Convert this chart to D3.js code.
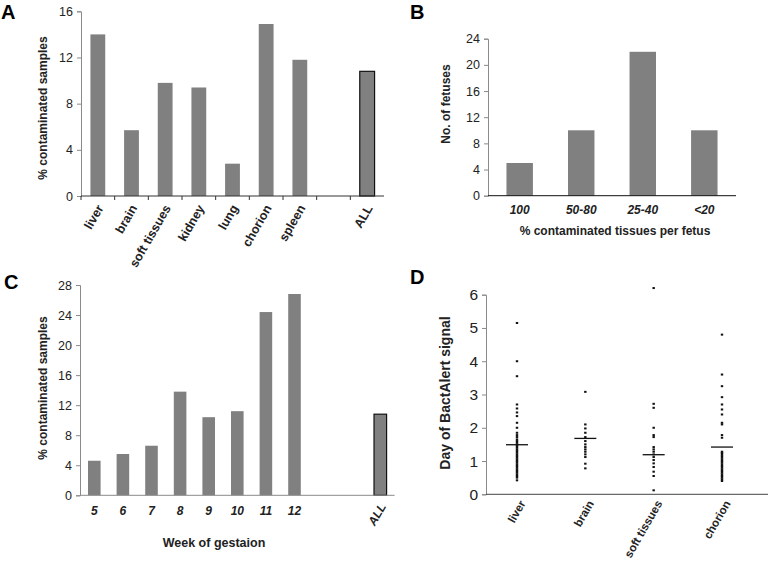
<!DOCTYPE html>
<html>
<head>
<meta charset="utf-8">
<script src="https://d3js.org/d3.v7.min.js"></script>
<style>
  body { margin: 0; background: #fff; }
  text { font-family: "Liberation Sans", Arial, sans-serif; }
  .tick text { font-size: 12px; fill: #222; }
  .ttl { font-size: 12px; font-weight: bold; fill: #222; }
  .lbl { font-size: 12px; font-weight: bold; fill: #222; }
  .panel { font-size: 20px; font-weight: bold; fill: #000; }
</style>
</head>
<body>
<svg id="fig" width="768" height="564"></svg>
<script>
// panel A: % contaminated samples per tissue
var tissuesA = ["liver", "brain", "soft tissues", "kidney", "lung", "chorion", "spleen", "", "ALL"];
var valuesA  = [14.0, 5.7, 9.8, 9.4, 2.8, 14.9, 11.8, null, 10.8];
var ticksA   = [0, 4, 8, 12, 16];

// panel B: number of fetuses by % contaminated tissues
var groupsB = ["100", "50-80", "25-40", "<20"];
var valuesB = [5, 10, 22, 10];
var ticksB  = [0, 4, 8, 12, 16, 20, 24];

// panel C: % contaminated samples per week of gestation
var weeksC  = ["5", "6", "7", "8", "9", "10", "11", "12", "", " ", "ALL"];
var valuesC = [4.6, 5.5, 6.6, 13.8, 10.4, 11.2, 24.4, 26.8, null, null, 10.8];
var ticksC  = [0, 4, 8, 12, 16, 20, 24, 28];

// panel D: day of BactAlert signal
var tissuesD = ["liver", "brain", "soft tissues", "chorion"];
var liverD = [5.15, 4.0, 3.55, 2.7, 2.58, 2.46, 2.35, 2.15, 2.0, 1.85, 1.78, 1.72, 1.65, 1.6, 1.55, 1.5,
              1.45, 1.4, 1.35, 1.3, 1.25, 1.2, 1.15, 1.1, 1.05, 1.0, 0.95, 0.9, 0.85, 0.8, 0.75, 0.7,
              0.65, 0.6, 0.55, 0.5, 0.42];
var brainD = [3.08, 2.1, 1.98, 1.85, 1.72, 1.6, 1.5, 1.42, 1.35, 1.28, 1.2, 1.12, 0.92, 0.78];
var softD  = [6.2, 2.72, 2.6, 2.0, 1.78, 1.72, 1.42, 1.35, 1.28, 1.2, 1.12, 1.03, 0.93, 0.82, 0.68, 0.55, 0.12];
var chorionD = [4.8, 3.6, 3.25, 2.92, 2.7, 2.55, 2.4, 2.15, 2.1, 1.78, 1.7, 1.28, 1.24, 1.2, 1.15, 1.1,
                1.05, 1.0, 0.95, 0.9, 0.85, 0.8, 0.75, 0.7, 0.65, 0.6, 0.55, 0.5, 0.45, 0.4];
var meansD = [1.49, 1.68, 1.19, 1.42];
var ticksD = [0, 1, 2, 3, 4, 5, 6];

var barFill = "#808080", axisGray = "#8a8a8a";
var svg = d3.select("#fig");

function yAxis(g, y, ticks, fs) {
  var ax = g.append("g").attr("transform", "translate(" + y.x0 + ",0)")
    .call(d3.axisLeft(y).tickValues(ticks).tickSize(4).tickPadding(4).tickFormat(d3.format("d")));
  ax.select(".domain").attr("stroke", axisGray);
  ax.selectAll(".tick line").attr("stroke", axisGray);
  ax.selectAll(".tick text").style("font-size", fs + "px");
  return ax;
}

// ---------- A ----------
(function(){
  var g = svg.append("g");
  var x = d3.scaleBand().domain(d3.range(tissuesA.length)).range([81, 384]).paddingInner(0.56).paddingOuter(0.28);
  var y = d3.scaleLinear().domain([0, 16]).range([196, 11.3]);
  y.x0 = 81;
  g.selectAll("rect").data(valuesA.map(function(v, i){ return {v: v, i: i}; }).filter(function(d){ return d.v != null; }))
    .enter().append("rect")
    .attr("x", function(d){ return x(d.i); })
    .attr("y", function(d){ return y(d.v); })
    .attr("width", x.bandwidth())
    .attr("height", function(d){ return y(0) - y(d.v); })
    .attr("fill", barFill)
    .attr("stroke", function(d){ return tissuesA[d.i] == "ALL" ? "#111" : "none"; })
    .attr("stroke-width", 1.2);
  yAxis(g, y, ticksA, 12.5);
  // x axis with boundary ticks
  var step = x.step();
  g.append("line").attr("x1", 81).attr("x2", 384).attr("y1", y(0)).attr("y2", y(0)).attr("stroke", "#333");
  g.selectAll(".xt").data(d3.range(tissuesA.length)).enter().append("line")
    .attr("x1", function(i){ return 81 + i * step; }).attr("x2", function(i){ return 81 + i * step; })
    .attr("y1", y(0)).attr("y2", y(0) + 4).attr("stroke", "#333");
  g.selectAll(".xl").data(tissuesA).enter().append("text").attr("class", "lbl").style("font-size", "12.5px")
    .attr("text-anchor", "end")
    .attr("transform", function(d, i){ return "translate(" + (x(i) + x.bandwidth()/2 + 6) + "," + (y(0) + 12) + ") rotate(-60)"; })
    .text(function(d){ return d; });
  g.append("text").attr("class", "ttl").attr("text-anchor", "middle")
    .attr("transform", "translate(47,108) rotate(-90)").text("%  contaminated samples");
  g.append("text").attr("class", "panel").attr("x", 1).attr("y", 19).text("A");
})();

// ---------- B ----------
(function(){
  var g = svg.append("g");
  var x = d3.scaleBand().domain(groupsB).range([488, 736]).paddingInner(0.57).paddingOuter(0.3);
  var y = d3.scaleLinear().domain([0, 24]).range([195.7, 38.7]);
  y.x0 = 488;
  g.selectAll("rect").data(valuesB).enter().append("rect")
    .attr("x", function(d, i){ return x(groupsB[i]); })
    .attr("y", function(d){ return y(d); })
    .attr("width", x.bandwidth())
    .attr("height", function(d){ return y(0) - y(d); })
    .attr("fill", barFill);
  yAxis(g, y, ticksB, 12.5);
  g.append("line").attr("x1", 488).attr("x2", 736).attr("y1", y(0)).attr("y2", y(0)).attr("stroke", "#111");
  g.selectAll(".xl").data(groupsB).enter().append("text").attr("class", "lbl")
    .attr("text-anchor", "middle").style("font-style", "italic")
    .attr("x", function(d){ return x(d) + x.bandwidth()/2; }).attr("y", 214).text(function(d){ return d; });
  g.append("text").attr("class", "ttl").attr("text-anchor", "middle")
    .attr("x", 615).attr("y", 235).text("%  contaminated tissues per fetus");
  g.append("text").attr("class", "ttl").attr("text-anchor", "middle")
    .attr("transform", "translate(450,104) rotate(-90)").text("No. of fetuses");
  g.append("text").attr("class", "panel").attr("x", 410).attr("y", 19).text("B");
})();

// ---------- C ----------
(function(){
  var g = svg.append("g");
  var x = d3.scaleBand().domain(d3.range(weeksC.length)).range([80, 394.6]).paddingInner(0.56).paddingOuter(0.28);
  var y = d3.scaleLinear().domain([0, 28]).range([495.3, 285]);
  y.x0 = 80;
  g.selectAll("rect").data(valuesC.map(function(v, i){ return {v: v, i: i}; }).filter(function(d){ return d.v != null; }))
    .enter().append("rect")
    .attr("x", function(d){ return x(d.i); })
    .attr("y", function(d){ return y(d.v); })
    .attr("width", x.bandwidth())
    .attr("height", function(d){ return y(0) - y(d.v); })
    .attr("fill", barFill)
    .attr("stroke", function(d){ return weeksC[d.i] == "ALL" ? "#111" : "none"; })
    .attr("stroke-width", 1.2);
  yAxis(g, y, ticksC, 12.5);
  g.append("line").attr("x1", 80).attr("x2", 394.6).attr("y1", y(0)).attr("y2", y(0)).attr("stroke", axisGray);
  g.selectAll(".xl").data(weeksC).enter().append("text").attr("class", "lbl")
    .style("font-style", "italic")
    .attr("text-anchor", function(d){ return d == "ALL" ? "end" : "middle"; })
    .attr("transform", function(d, i){
      var cx = x(i) + x.bandwidth()/2;
      return d == "ALL" ? "translate(" + (cx + 6) + "," + (y(0) + 11) + ") rotate(-60)"
                        : "translate(" + cx + "," + (y(0) + 20) + ")";
    })
    .text(function(d){ return d; });
  g.append("text").attr("class", "ttl").attr("text-anchor", "middle").style("font-size", "12.5px")
    .attr("x", 214).attr("y", 547).text("Week of gestaion");
  g.append("text").attr("class", "ttl").attr("text-anchor", "middle")
    .attr("transform", "translate(47,388) rotate(-90)").text("%  contaminated samples");
  g.append("text").attr("class", "panel").attr("x", 4).attr("y", 289).text("C");
})();

// ---------- D ----------
(function(){
  var g = svg.append("g");
  var x = d3.scalePoint().domain(tissuesD).range([517, 722]);
  var y = d3.scaleLinear().domain([0, 6]).range([494.3, 294.7]);
  y.x0 = 486;
  var seriesD = [liverD, brainD, softD, chorionD];
  seriesD.forEach(function(vals, k){
    g.selectAll(".dot" + k).data(vals).enter().append("rect")
      .attr("x", x(tissuesD[k]) - 1.2).attr("y", function(d){ return y(d) - 1; })
      .attr("width", 2.4).attr("height", 2).attr("fill", "#111");
  });
  g.selectAll(".mean").data(meansD).enter().append("line")
    .attr("x1", function(d, i){ return x(tissuesD[i]) - 11; })
    .attr("x2", function(d, i){ return x(tissuesD[i]) + 11; })
    .attr("y1", function(d){ return y(d); }).attr("y2", function(d){ return y(d); })
    .attr("stroke", "#111").attr("stroke-width", 1.3);
  yAxis(g, y, ticksD, 15.5);
  g.append("line").attr("x1", 486).attr("x2", 768).attr("y1", y(0)).attr("y2", y(0)).attr("stroke", "#444");
  g.selectAll(".xl").data(tissuesD).enter().append("text").attr("class", "lbl").style("font-size", "11.5px")
    .attr("text-anchor", "end")
    .attr("transform", function(d){ return "translate(" + (x(d) + 9) + "," + (y(0) + 9) + ") rotate(-60)"; })
    .text(function(d){ return d; });
  g.append("text").attr("class", "ttl").attr("text-anchor", "middle").style("font-size", "14px")
    .attr("transform", "translate(450,393) rotate(-90)").text("Day of BactAlert signal");
  g.append("text").attr("class", "panel").attr("x", 410).attr("y", 284).text("D");
})();
</script>
</body>
</html>
